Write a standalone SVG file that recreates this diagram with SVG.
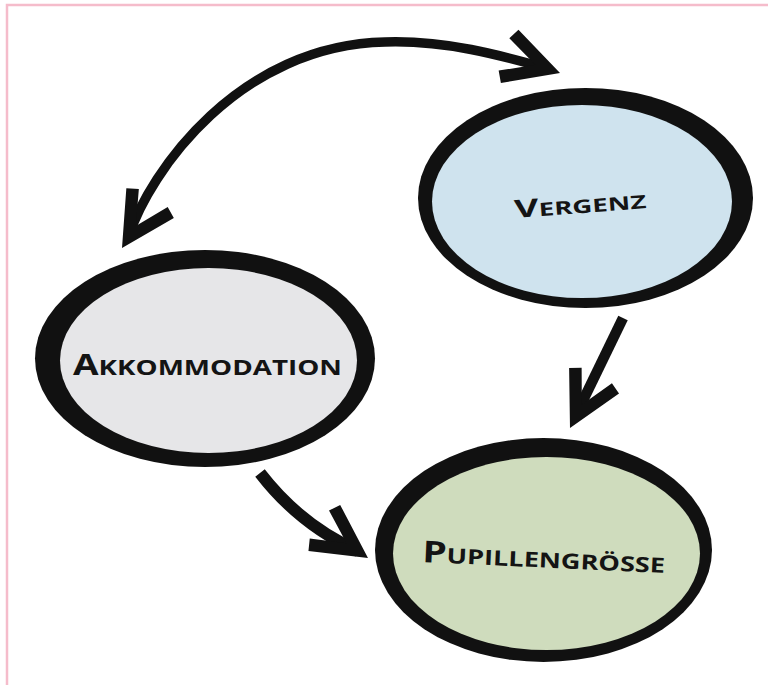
<svg xmlns="http://www.w3.org/2000/svg" width="768" height="685" viewBox="0 0 768 685">
  <style>
    .frame { fill: none; stroke: #f5bccb; stroke-width: 2.5; }
    .ring { fill: #111; }
    .lbl { font-family: "Open Sans", "Liberation Sans", sans-serif; font-weight: 700; fill: #141414; }
    .shaft { fill: none; stroke: #111; stroke-linecap: butt; }
    .head { fill: #111; }
  </style>
  <defs>
    <path id="arrowhead" d="M0,0 L-53,-28 L-59,-17 L-26,0 L-59,17 L-53,28 Z"/>
  </defs>
  <rect width="768" height="685" fill="#ffffff"/>
  <rect class="frame" x="7" y="5" width="800" height="720"/>

  <g id="node-vergenz">
    <ellipse class="ring" cx="585.5" cy="198" rx="167.5" ry="110"/>
    <ellipse cx="582" cy="201.5" rx="150" ry="96.5" fill="#cfe3ee"/>
    <text class="lbl" x="515" y="218" transform="rotate(-4.3 515 218)" textLength="132" lengthAdjust="spacingAndGlyphs"><tspan font-size="25">V</tspan><tspan font-size="18.5">ERGENZ</tspan></text>
  </g>

  <g id="node-akkommodation">
    <ellipse class="ring" cx="205" cy="358.5" rx="170" ry="108.5"/>
    <ellipse cx="208.5" cy="360.5" rx="148.5" ry="92.5" fill="#e6e6e8"/>
    <text class="lbl" x="73" y="375" textLength="269" lengthAdjust="spacingAndGlyphs"><tspan font-size="28">A</tspan><tspan font-size="21">KKOMMODATION</tspan></text>
  </g>

  <g id="node-pupillengroesse">
    <ellipse class="ring" cx="543.5" cy="550" rx="168.5" ry="112"/>
    <ellipse cx="546.5" cy="553.5" rx="153.5" ry="96.5" fill="#cfdcbd"/>
    <text class="lbl" x="422" y="562" transform="rotate(2.6 422 562)" textLength="243" lengthAdjust="spacingAndGlyphs"><tspan font-size="30">P</tspan><tspan font-size="21">UPILLENGRÖSSE</tspan></text>
  </g>

  <g id="connectors">
    <path class="shaft" stroke-width="9.5" d="M128,238 C150,170 240,45 385,42 C445,40 500,55 549,69"/>
    <use href="#arrowhead" class="head" transform="translate(122 248) rotate(122)"/>
    <use href="#arrowhead" class="head" transform="translate(560 73) rotate(18.3)"/>

    <path class="shaft" stroke-width="10.5" d="M623,318 Q600,365 575,417"/>
    <use href="#arrowhead" class="head" transform="translate(570 428) rotate(117)"/>

    <path class="shaft" stroke-width="12" d="M260,473 Q300,525 358,551"/>
    <use href="#arrowhead" class="head" transform="translate(368 558) rotate(34.5)"/>
  </g>
</svg>
